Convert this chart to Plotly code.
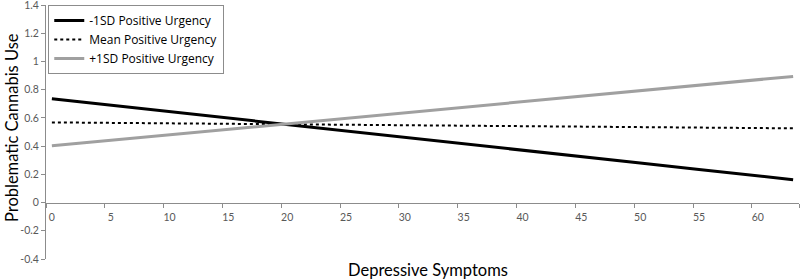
import plotly.graph_objects as go

# Data
depressive = [0, 5, 10, 15, 20, 25, 30, 35, 40, 45, 50, 55, 60, 63]
minus1sd = [0.735, 0.689, 0.644, 0.598, 0.553, 0.507, 0.462, 0.417, 0.371, 0.326, 0.280, 0.235, 0.189, 0.162]
mean_pu = [0.568, 0.565, 0.561, 0.558, 0.555, 0.551, 0.548, 0.545, 0.541, 0.538, 0.535, 0.531, 0.528, 0.526]
plus1sd = [0.402, 0.441, 0.480, 0.519, 0.558, 0.597, 0.636, 0.675, 0.714, 0.753, 0.792, 0.831, 0.870, 0.894]

series_names = ["-1SD Positive Urgency", "Mean Positive Urgency", "+1SD Positive Urgency"]
x_tick_vals = [0, 5, 10, 15, 20, 25, 30, 35, 40, 45, 50, 55, 60]
x_tick_labels = [str(v) for v in x_tick_vals]
y_tick_vals = [-0.4, -0.2, 0, 0.2, 0.4, 0.6, 0.8, 1.0, 1.2, 1.4]
y_tick_labels = ["-0.4", "-0.2", "0", "0.2", "0.4", "0.6", "0.8", "1", "1.2", "1.4"]

FONT = "Lato"
LEGEND_FONT = "Open Sans"
AXIS_COLOR = "#8c8c8c"
TICK_COLOR = "#595959"

fig = go.Figure()
fig.add_trace(go.Scatter(x=depressive, y=minus1sd, mode="lines", name=series_names[0],
                         line=dict(color="black", width=3)))
fig.add_trace(go.Scatter(x=depressive, y=mean_pu, mode="lines", name=series_names[1],
                         line=dict(color="black", width=2, dash="dot")))
fig.add_trace(go.Scatter(x=depressive, y=plus1sd, mode="lines", name=series_names[2],
                         line=dict(color="#a0a0a0", width=3)))

boundaries = [v - 0.5 for v in x_tick_vals] + [63.5]

fig.update_layout(
    width=800, height=280,
    margin=dict(l=46, r=1, t=5, b=21, autoexpand=False),
    plot_bgcolor="white", paper_bgcolor="white",
    font=dict(family=FONT, color="black"),
    showlegend=True,
    legend=dict(x=0.003, y=1.0, xanchor="left", yanchor="top",
                bordercolor=AXIS_COLOR, borderwidth=1, bgcolor="white",
                font=dict(family=LEGEND_FONT, size=12, color="black"),
                tracegroupgap=0, itemwidth=30),
    xaxis=dict(range=[-0.5, 63.5], anchor="free", position=0.4 / 1.8,
               automargin=False,
               showline=True, linecolor=AXIS_COLOR, linewidth=1,
               showgrid=False, zeroline=False,
               tickmode="array", tickvals=x_tick_vals, ticktext=x_tick_labels,
               ticks="", ticklabelstandoff=5,
               tickfont=dict(family=FONT, size=10.5, color=TICK_COLOR),
               minor=dict(tickmode="array", tickvals=boundaries, ticks="outside",
                          ticklen=4, tickcolor=AXIS_COLOR, showgrid=False)),
    yaxis=dict(range=[-0.40001, 1.40001], automargin=False,
               showline=True, linecolor=AXIS_COLOR, linewidth=1,
               showgrid=False, zeroline=False, ticklabeloverflow="allow",
               tickmode="array", tickvals=y_tick_vals, ticktext=y_tick_labels,
               ticks="outside", ticklen=4, tickcolor=AXIS_COLOR,
               tickfont=dict(family=FONT, size=10.5, color=TICK_COLOR)),
)

fig.add_annotation(text="Depressive Symptoms", xref="paper", yref="paper",
                   x=(427.5 - 46) / 753, y=-11 / 254, xanchor="center", yanchor="middle",
                   showarrow=False, font=dict(family=FONT, size=16.5, color="black"))
fig.add_annotation(text="Problematic Cannabis Use", xref="paper", yref="paper",
                   x=-34 / 753, y=(259 - 128) / 254, xanchor="center", yanchor="middle",
                   textangle=-90, showarrow=False,
                   font=dict(family=FONT, size=16.5, color="black"))

fig.write_html("out.html", config={"displayModeBar": False},
               post_script="document.body.style.margin='0';")
